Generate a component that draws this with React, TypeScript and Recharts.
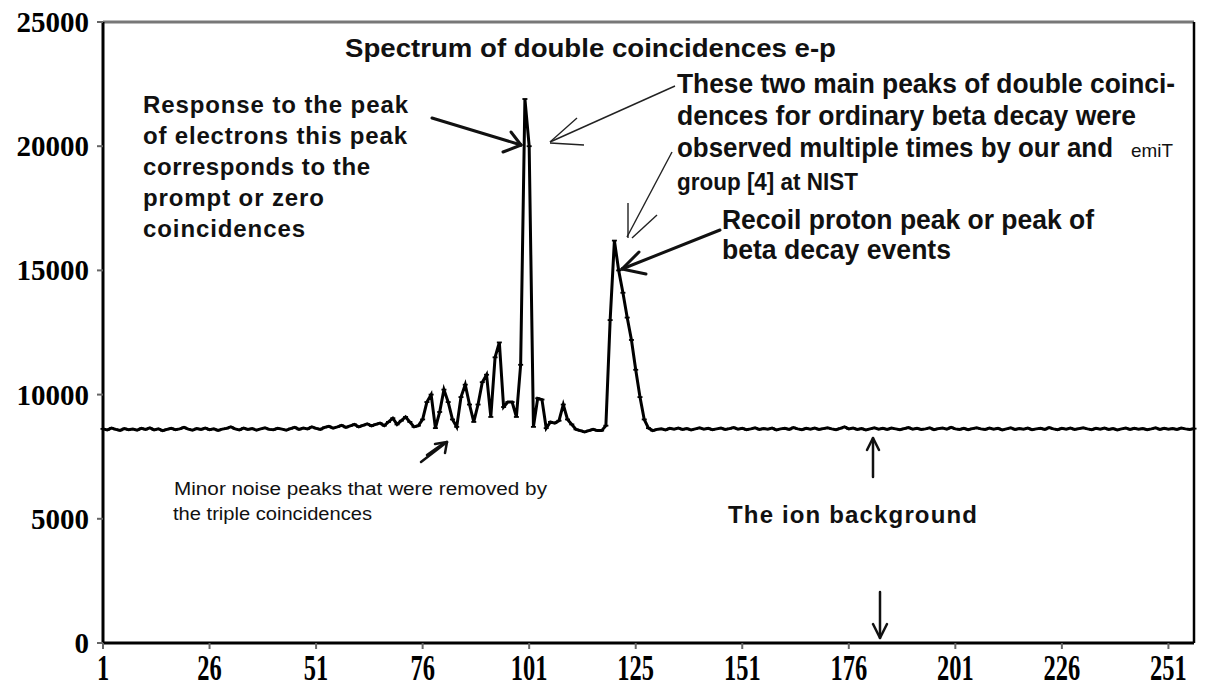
import React from 'react';
import { LineChart, Line, XAxis, YAxis, ReferenceLine } from 'recharts';

// Counts per channel 1..65 (flat ion background before the peaks)
const baselineStart = [
  8620, 8580, 8650, 8600, 8560, 8630, 8590, 8610, 8570, 8640,
  8600, 8660, 8580, 8620, 8550, 8600, 8640, 8590, 8620, 8680,
  8610, 8570, 8630, 8600, 8650, 8590, 8620, 8560, 8610, 8640,
  8700, 8620, 8580, 8650, 8600, 8630, 8570, 8620, 8660, 8600,
  8590, 8640, 8610, 8570, 8630, 8680, 8600, 8650, 8620, 8700,
  8640, 8600, 8680, 8720, 8650, 8700, 8760, 8680, 8740, 8800,
  8700, 8760, 8820, 8740, 8800,
];

// Channels 66..130 : minor noise peaks, prompt peak, recoil proton peak
const peakRegion = [
  8850, 8750, 8900, 9050, 8800, 8950, 9100, 8900, 8700, 8750,
  9000, 9700, 10000, 8650, 9300, 10200, 9700, 9000, 8700, 9900,
  10400, 9600, 8900, 9600, 10500, 10800, 9100, 11500, 12100, 9500,
  9700, 9700, 9100, 11200, 21900, 20000, 8700, 9850, 9800, 8650,
  8900, 8850, 8950, 9600, 9000, 8800, 8600, 8550, 8500, 8550,
  8600, 8550, 8550, 8750, 13000, 16200, 15000, 14100, 13100, 12200,
  11000, 9900, 9000, 8650, 8550,
];

// Channels 131..257 : flat ion background after the peaks
const baselineEnd = [
  8600, 8620, 8580, 8640, 8610, 8650, 8600, 8630, 8580, 8620,
  8660, 8610, 8640, 8590, 8620, 8650, 8600, 8630, 8670, 8610,
  8640, 8590, 8620, 8660, 8600, 8630, 8610, 8650, 8580, 8620,
  8640, 8600, 8670, 8620, 8590, 8640, 8610, 8650, 8600, 8630,
  8660, 8620, 8590, 8640, 8700, 8620, 8650, 8600, 8630, 8580,
  8620, 8660, 8610, 8640, 8600, 8650, 8620, 8590, 8630, 8670,
  8610, 8640, 8600, 8620, 8660, 8590, 8630, 8650, 8610, 8680,
  8620, 8600, 8640, 8590, 8630, 8660, 8620, 8600, 8650, 8610,
  8640, 8580, 8620, 8660, 8600, 8630, 8610, 8650, 8590, 8620,
  8640, 8600, 8670, 8620, 8590, 8640, 8610, 8650, 8600, 8630,
  8660, 8620, 8590, 8640, 8610, 8650, 8600, 8630, 8580, 8620,
  8650, 8600, 8640, 8610, 8630, 8590, 8620, 8660, 8600, 8640,
  8610, 8630, 8600, 8650, 8620, 8600, 8630,
];

const counts = [...baselineStart, ...peakRegion, ...baselineEnd];
const channels = counts.map((_, i) => i + 1);

const xTickValues = [1, 26, 51, 76, 101, 126, 151, 176, 201, 226, 251];
const xTickLabels = ['1', '26', '51', '76', '101', '125', '151', '176', '201', '226', '251'];
const yTickValues = [0, 5000, 10000, 15000, 20000, 25000];
const yTickLabels = ['0', '5000', '10000', '15000', '20000', '25000'];

const data = channels.map((ch, i) => ({ ch, count: counts[i] }));

const SERIF = '"Liberation Serif", "Times New Roman", serif';
const SANS = '"Liberation Sans", Arial, sans-serif';

const XTick = (props: any) => {
  const { x, y, payload } = props;
  const idx = xTickValues.indexOf(payload.value);
  return (
    <g transform={`translate(${x},${y})`}>
      <text
        x={0}
        y={29}
        textAnchor="middle"
        transform="scale(0.7,1)"
        fontFamily={SERIF}
        fontWeight="bold"
        fontSize={35}
        fill="#000"
      >
        {idx >= 0 ? xTickLabels[idx] : payload.value}
      </text>
    </g>
  );
};

const YTick = (props: any) => {
  const { x, y, payload } = props;
  const idx = yTickValues.indexOf(payload.value);
  return (
    <text
      x={x - 6}
      y={y + 10}
      textAnchor="end"
      fontFamily={SERIF}
      fontWeight="bold"
      fontSize={29}
      fill="#000"
    >
      {idx >= 0 ? yTickLabels[idx] : payload.value}
    </text>
  );
};

const DashDot = (p: any) => {
  if (p.cx == null || p.cy == null) return <g key={p.index} />;
  return (
    <line
      key={p.index}
      x1={p.cx - 2.5}
      x2={p.cx + 2.5}
      y1={p.cy}
      y2={p.cy}
      stroke="#000"
      strokeWidth={1.8}
    />
  );
};

const T = (props: any) => {
  const { x, y, w, size = 24, weight = 'bold', adjust = 'spacingAndGlyphs', children } = props;
  return (
    <text
      x={x}
      y={y}
      textLength={w}
      lengthAdjust={adjust}
      fontFamily={SANS}
      fontWeight={weight}
      fontSize={size}
      fill="#111"
    >
      {children}
    </text>
  );
};

const Annotations = () => (
  <svg
    width={1207}
    height={687}
    style={{ position: 'absolute', left: 0, top: 0, pointerEvents: 'none' }}
  >
    <T x={345} y={57} w={491} size={25}>Spectrum of double coincidences e-p</T>

    <T x={143} y={113} w={265} size={24} adjust="spacing">Response to the peak</T>
    <T x={143} y={144} w={264} size={24} adjust="spacing">of electrons this peak</T>
    <T x={143} y={175} w={227} size={24} adjust="spacing">corresponds to the</T>
    <T x={143} y={206} w={181} size={24} adjust="spacing">prompt or zero</T>
    <T x={143} y={237} w={162} size={24} adjust="spacing">coincidences</T>

    <T x={677} y={93} w={498} size={27}>These two main peaks of double coinci-</T>
    <T x={677} y={125} w={459} size={27}>dences for ordinary beta decay were</T>
    <T x={677} y={157} w={436} size={27}>observed multiple times by our and</T>
    <T x={1131} y={157} w={42} size={19} weight="normal">emiT</T>
    <T x={677} y={190} w={181} size={23}>group [4] at NIST</T>

    <T x={722} y={229} w={372} size={27}>Recoil proton peak or peak of</T>
    <T x={722} y={259} w={229} size={27}>beta decay events</T>

    <T x={728} y={523} w={249} size={24} adjust="spacing">The ion background</T>

    <T x={174} y={495} w={373} size={18} weight="normal">Minor noise peaks that were removed by</T>
    <T x={173} y={520} w={199} size={18} weight="normal">the triple coincidences</T>

    {/* arrow to prompt peak from the left */}
    <g stroke="#111" strokeWidth={3} strokeLinecap="round" fill="none">
      <line x1={432} y1={118} x2={521} y2={145} />
      <line x1={521} y1={145} x2={511} y2={132} />
      <line x1={521} y1={145} x2={503} y2={152} />
    </g>
    {/* thin arrow to prompt peak from the right */}
    <g stroke="#222" strokeWidth={1.4} fill="none">
      <line x1={675} y1={86} x2={550} y2={142} />
      <line x1={550} y1={142} x2={577} y2={118} />
      <line x1={550} y1={143} x2={584} y2={145} />
    </g>
    {/* thin arrow to recoil peak top */}
    <g stroke="#222" strokeWidth={1.4} fill="none">
      <line x1={672} y1={152} x2={627} y2={237} />
      <line x1={628} y1={203} x2={628} y2={238} />
      <line x1={657} y1={215} x2={632} y2={238} />
    </g>
    {/* thick arrow to recoil peak */}
    <g stroke="#111" strokeWidth={3} strokeLinecap="round" fill="none">
      <line x1={720} y1={230} x2={622} y2={269} />
      <line x1={622} y1={269} x2={639} y2={252} />
      <line x1={622} y1={269} x2={646} y2={274} />
    </g>
    {/* minor noise arrow */}
    <g stroke="#111" strokeWidth={2.5} strokeLinecap="round" fill="none">
      <line x1={421} y1={462} x2={447} y2={442} />
      <line x1={427} y1={455} x2={444} y2={443} />
      <line x1={447} y1={442} x2={435} y2={444} />
      <line x1={447} y1={442} x2={445} y2={453} />
    </g>
    {/* ion background arrows */}
    <g stroke="#111" strokeWidth={2.5} strokeLinecap="round" fill="none">
      <line x1={873} y1={439} x2={873} y2={477} />
      <line x1={873} y1={438} x2={867} y2={450} />
      <line x1={873} y1={438} x2={879} y2={450} />
      <line x1={880} y1={592} x2={880} y2={637} />
      <line x1={880} y1={638} x2={873} y2={624} />
      <line x1={880} y1={638} x2={887} y2={624} />
    </g>
  </svg>
);

export default function App() {
  return (
    <div
      style={{
        position: 'absolute',
        left: 0,
        top: 0,
        width: 1207,
        height: 687,
        background: '#fff',
      }}
    >
      <LineChart
        width={1207}
        height={687}
        data={data}
        margin={{ top: 22, right: 13, bottom: 0, left: 8 }}
      >
        <XAxis
          dataKey="ch"
          type="number"
          domain={[1, 257]}
          ticks={xTickValues}
          interval={0}
          height={44}
          tick={<XTick />}
          tickSize={6}
          tickLine={{ stroke: '#666', strokeWidth: 2 }}
          axisLine={{ stroke: '#000', strokeWidth: 3 }}
        />
        <YAxis
          type="number"
          domain={[0, 25000]}
          ticks={yTickValues}
          interval={0}
          width={95}
          tick={<YTick />}
          tickSize={6}
          tickLine={{ stroke: '#666', strokeWidth: 2 }}
          axisLine={{ stroke: '#000', strokeWidth: 3 }}
        />
        <ReferenceLine y={25000} stroke="#777" strokeWidth={3} />
        <ReferenceLine x={257} stroke="#000" strokeWidth={2.5} />
        <Line
          type="linear"
          dataKey="count"
          stroke="#000"
          strokeWidth={3}
          dot={DashDot}
          activeDot={false}
          isAnimationActive={false}
        />
      </LineChart>
      <Annotations />
    </div>
  );
}
